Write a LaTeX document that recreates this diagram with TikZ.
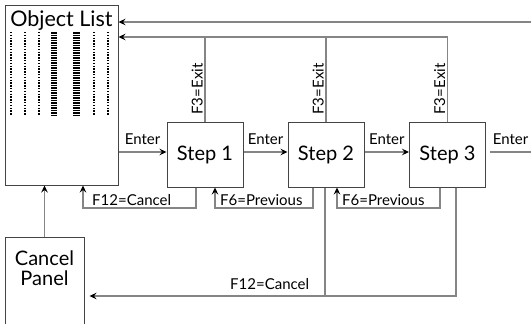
\documentclass[tikz,border=0pt]{standalone}
\usepackage{fontspec}
\setmainfont{Lato}
\usetikzlibrary{arrows.meta}
\definecolor{boxc}{HTML}{444444}
\definecolor{linec}{HTML}{858585}
\begin{document}
\begin{tikzpicture}[x=1pt,y=-1pt,
  box/.style={draw=boxc, line width=1pt, inner sep=0pt},
  conn/.style={draw=linec, line width=1.1pt},
  arr/.style={conn, -{Stealth[length=7pt,width=6.5pt,inset=2.5pt,color=black]}},
  big/.style={font=\fontsize{20}{19.5}\selectfont},
  lbl/.style={font=\fontsize{15}{15}\selectfont, inner sep=1pt},
  col/.style={draw=black, dash pattern=on 1.4pt off 1.4pt},
  colthick/.style={draw=black, dash pattern=on 1.5pt off 1pt}]
\useasboundingbox (0,0) rectangle (531,324);
% boxes
\node[box, minimum width=113pt, minimum height=180pt] (ol) at (61.5,95) {};
\node[font=\fontsize{21.5}{22}\selectfont, anchor=base, inner sep=0pt] (oltxt) at (61.5,27) {Object List};
\foreach \x in {11,25,39,94,108}
  \draw[col, line width=2pt] (\x,32) -- (\x,115);
\foreach \x/\w in {54/6.5,76.5/7}
  \draw[colthick, line width=\w pt] (\x,32) -- (\x,115);
\node[box, big, minimum width=76pt, minimum height=65pt] (s1) at (205,154.5) {Step 1};
\node[box, big, minimum width=76pt, minimum height=65pt] (s2) at (326,154.5) {Step 2};
\node[box, big, minimum width=76pt, minimum height=65pt] (s3) at (447.5,154.5) {Step 3};
\node[box, minimum width=79pt, minimum height=110pt, anchor=north] (cp) at (44.5,237) {};
\node[big, align=center, inner sep=0pt] (cptxt) at (44.5,268) {Cancel\\Panel};
% exit lines
\coordinate (rt1) at (531,22);
\coordinate (exy) at (0,37);
\coordinate (ey) at (0,152);
\draw[arr] (rt1) -- (rt1 -| ol.east);
\draw[arr] (s3.north) |- (exy -| ol.east);
\draw[conn] (s1.north) -- (s1.north |- exy);
\draw[conn] (s2.north) -- (s2.north |- exy);
\node[lbl, rotate=90, anchor=south] (x1) at (204,89) {F3=Exit};
\node[lbl, rotate=90, anchor=south] (x2) at (325,89) {F3=Exit};
\node[lbl, rotate=90, anchor=south] (x3) at (446.5,89) {F3=Exit};
% enter arrows
\draw[arr] (ol.east |- ey) -- (s1.west |- ey) node[lbl, midway, above=6pt] (e1) {Enter};
\draw[arr] (s1.east |- ey) -- (s2.west |- ey) node[lbl, midway, above=6pt] (e2) {Enter};
\draw[arr] (s2.east |- ey) -- (s3.west |- ey) node[lbl, midway, above=6pt] (e3) {Enter};
\coordinate (rend) at (531,152);
\draw[conn] ([xshift=4pt]s3.east |- ey) -- (rend) node[lbl, midway, above=6pt] (e4) {Enter};
% returns
\coordinate (b1) at (196,208); \coordinate (b1l) at (83,208);
\draw[arr] (s1.south -| b1) -- (b1) -- (b1l) -- (b1l |- ol.south);
\node[lbl, anchor=base west] (l1) at (91,205) {F12=Cancel};
\coordinate (b2) at (313,208); \coordinate (b2l) at (215,208);
\draw[arr] (s2.south -| b2) -- (b2) -- (b2l) -- (b2l |- s1.south);
\node[lbl, anchor=base west] (l2) at (219,205) {F6=Previous};
\coordinate (b3) at (440,208); \coordinate (b3l) at (337,208);
\draw[arr] (s3.south -| b3) -- (b3) -- (b3l) -- (b3l |- s2.south);
\node[lbl, anchor=base west] (l3) at (341,205) {F6=Previous};
% big cancel
\coordinate (c2) at (325,296); \coordinate (c3) at (456,296);
\draw[conn] (s2.south -| c2) -- (c2);
\draw[arr, shorten >=5pt] (s3.south -| c3) -- (c3) -- (c3 -| cp.east);
\node[lbl, anchor=base west] (l4) at (229,289) {F12=Cancel};
\draw[arr] (cp.north) -- (cp.north |- ol.south);
\end{tikzpicture}
\end{document}
